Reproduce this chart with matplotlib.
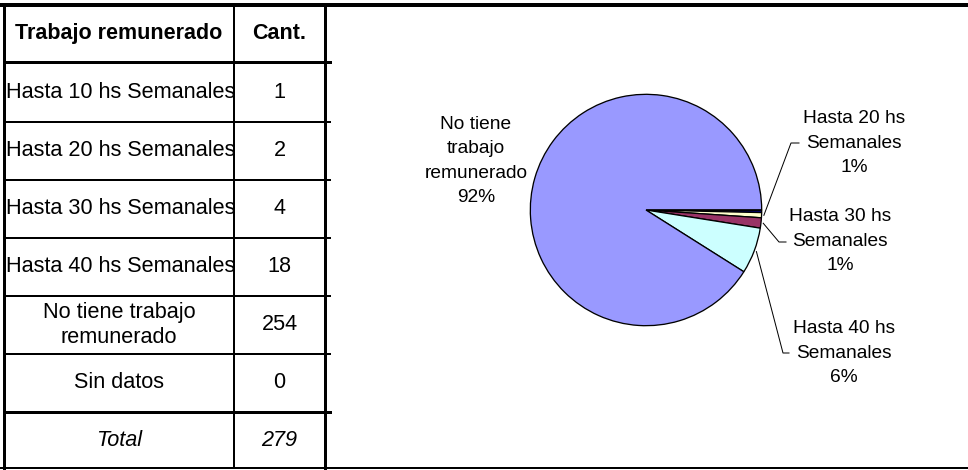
import numpy as np
import matplotlib.pyplot as plt

plt.rcParams['font.family'] = ['Liberation Sans', 'DejaVu Sans']

# datos de la tabla
categorias = ['Hasta 10 hs Semanales', 'Hasta 20 hs Semanales', 'Hasta 30 hs Semanales',
              'Hasta 40 hs Semanales', 'No tiene trabajo\nremunerado', 'Sin datos']
cantidades = [1, 2, 4, 18, 254, 0]
total = 279
encabezado = ['Trabajo remunerado', 'Cant.']

# datos del grafico de torta
colores = ['#000080', '#FFFFCC', '#993366', '#CCFFFF', '#9999FF', '#FFFFFF']
etiquetas_torta = ['', 'Hasta 20 hs\nSemanales\n1%', 'Hasta 30 hs\nSemanales\n1%',
                   'Hasta 40 hs\nSemanales\n6%', 'No tiene\ntrabajo\nremunerado\n92%', '']

W, H = 968, 470
fig = plt.figure(figsize=(W / 100, H / 100), dpi=100)
bg = fig.add_axes([0, 0, 1, 1])
bg.set_xlim(0, W)
bg.set_ylim(H, 0)
bg.axis('off')

px = 0.72  # pixeles -> puntos

# ---- tabla ----
x_izq, x_div, x_der = 4, 234, 325
filas_y = [5, 62, 122, 180, 238, 296, 354, 412, 468]
grosor = [3, 3, 2, 2, 2, 2, 2, 3, 2]

bg.plot([0, W], [5, 5], color='black', lw=4 * px, solid_capstyle='butt')
bg.plot([0, W], [468, 468], color='black', lw=2 * px, solid_capstyle='butt')
bg.plot([x_izq, x_izq], [5, 468], color='black', lw=3 * px)
bg.plot([x_div, x_div], [5, 468], color='black', lw=2 * px)
bg.plot([x_der, x_der], [5, 468], color='black', lw=3 * px)
for y, g in zip(filas_y[1:-1], grosor[1:-1]):
    bg.plot([x_izq, x_der + 5], [y, y], color='black', lw=g * px)

c1 = (x_izq + x_div) / 2
c2 = (x_div + x_der) / 2
yc = [(a + b) / 2 for a, b in zip(filas_y[:-1], filas_y[1:])]

bg.text(c1, yc[0], encabezado[0], ha='center', va='center', fontsize=15.5, fontweight='bold')
bg.text(c2, yc[0], encabezado[1], ha='center', va='center', fontsize=15.5, fontweight='bold')
for i, (cat, n) in enumerate(zip(categorias, cantidades)):
    y = yc[i + 1]
    if cat.startswith('Hasta'):
        bg.text(x_izq + 2, y, cat, ha='left', va='center', fontsize=15.6)
    else:
        bg.text(c1, y, cat, ha='center', va='center', fontsize=15.6, linespacing=1.2)
    bg.text(c2, y, str(n), ha='center', va='center', fontsize=15.6)
bg.text(c1, yc[-1], 'Total', ha='center', va='center', fontsize=15.6, style='italic')
bg.text(c2, yc[-1], str(total), ha='center', va='center', fontsize=15.6, style='italic')

# ---- torta ----
cx, cy, R = 646, 210, 118
ax = fig.add_axes([(cx - R) / W, (H - cy - R) / H, 2 * R / W, 2 * R / H])
ax.pie(cantidades, colors=colores, startangle=0, counterclock=False, radius=1,
       wedgeprops=dict(edgecolor='black', linewidth=1.3 * px))
ax.set_xlim(-1.02, 1.02)
ax.set_ylim(-1.02, 1.02)
ax.set_aspect('equal')
ax.axis('off')

# angulos medios de cada porcion (sentido horario desde las 3)
frac = np.array(cantidades) / np.sum(cantidades)
acum = np.cumsum(frac)
medio = -(acum - frac / 2) * 360

pos_texto = {1: (854, 143), 2: (840, 241), 3: (844, 353), 4: (476, 161)}
codos = {1: [(791, 143), (799, 143)], 2: [(779, 242), (786, 242)], 3: [(783, 353), (789, 353)]}

for i, (tx, ty) in pos_texto.items():
    bg.text(tx, ty, etiquetas_torta[i], ha='center', va='center', fontsize=13.8,
            linespacing=1.55, multialignment='center')
for i, pts in codos.items():
    a = np.deg2rad(medio[i])
    x0, y0 = cx + R * np.cos(a), cy - R * np.sin(a)
    xs = [x0] + [p[0] for p in pts]
    ys = [y0] + [p[1] for p in pts]
    bg.plot(xs, ys, color='black', lw=1 * px)

fig.savefig('out.png', dpi=100)
